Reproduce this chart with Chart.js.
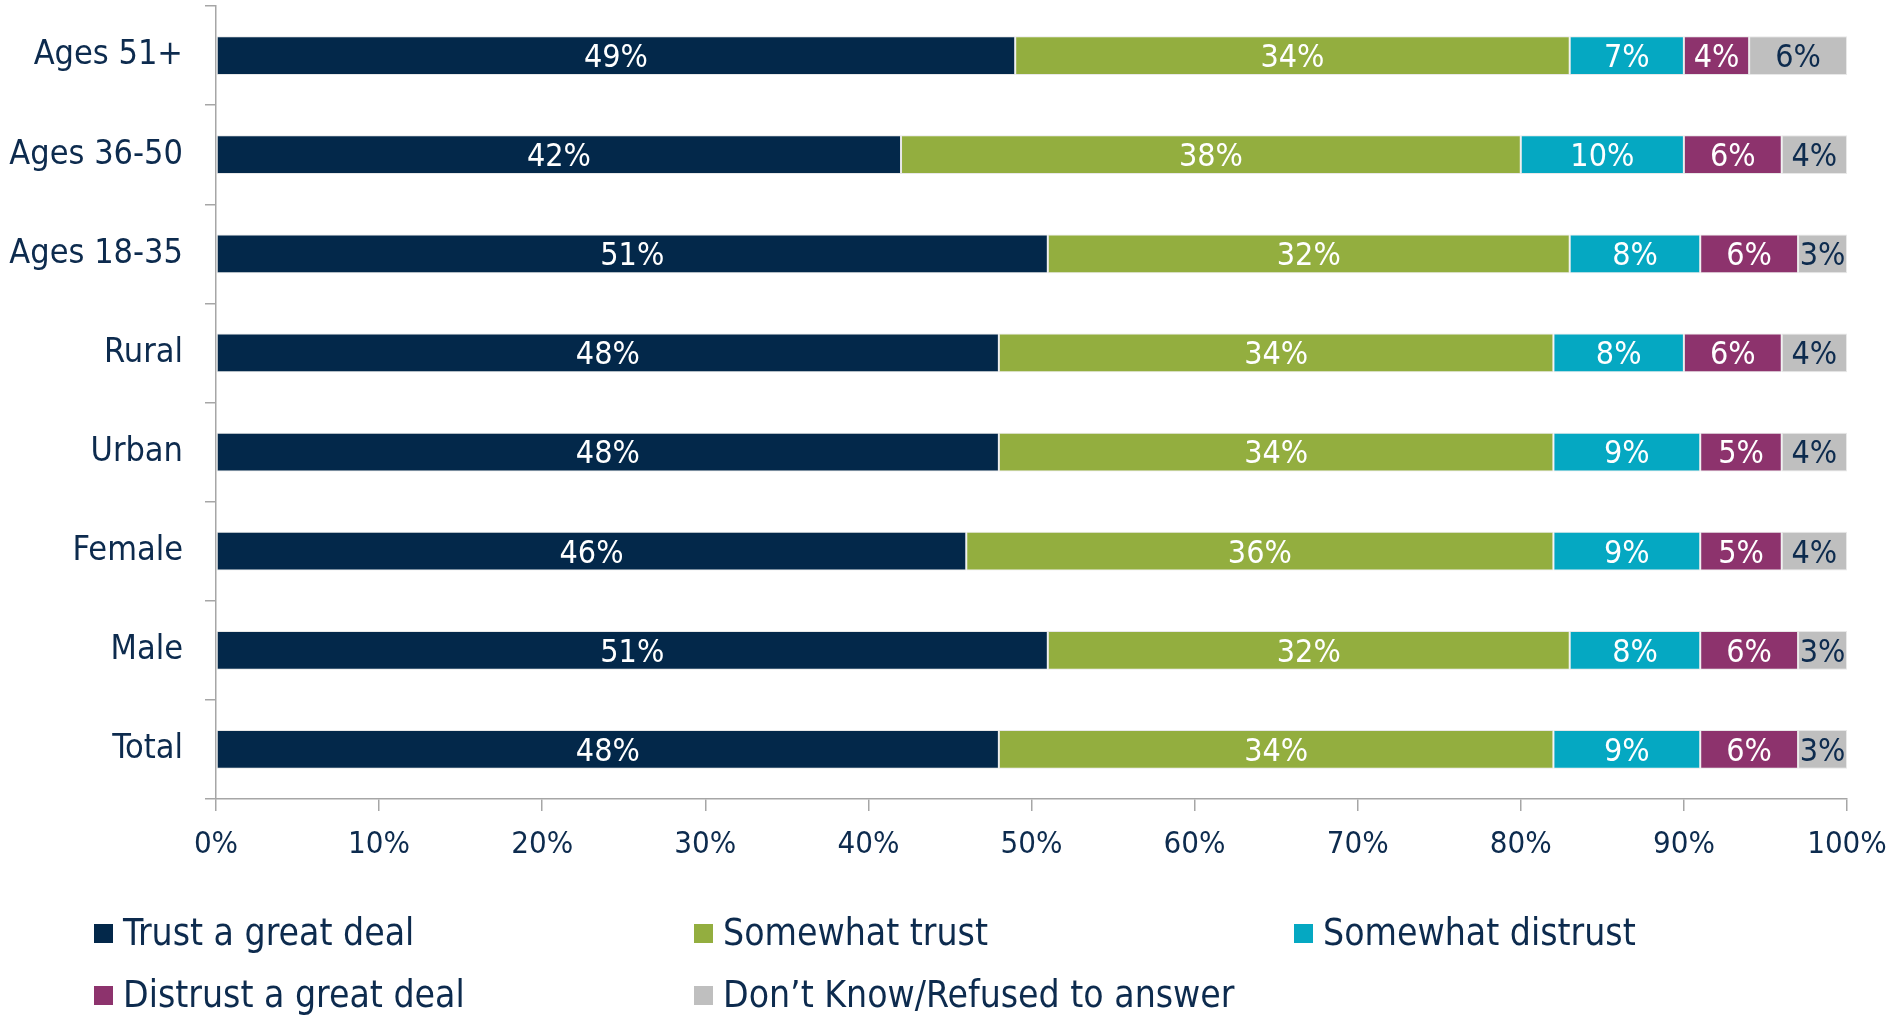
<!DOCTYPE html>
<html>
<head>
<meta charset="utf-8">
<script src="https://cdn.jsdelivr.net/npm/chart.js@4/dist/chart.umd.min.js"></script>
<style>
  body { margin: 0; background: #fff; }
  #wrap { position: relative; width: 1895px; height: 1015px; }
  .leg { position: absolute; font-family: "DejaVu Sans Condensed", "DejaVu Sans", sans-serif; font-size: 37px; color: #0D2B4E; white-space: nowrap; line-height: 40px; }
  .leg span { display: inline-block; width: 19px; height: 19px; margin-right: 10px; vertical-align: 2px; }
</style>
</head>
<body>
<div id="wrap">
  <canvas id="mycanvas" width="1895" height="1015"></canvas>
  <div id="legend"></div>
</div>
<script>
var categories = ["Ages 51+", "Ages 36-50", "Ages 18-35", "Rural", "Urban", "Female", "Male", "Total"];
var seriesNames = ["Trust a great deal", "Somewhat trust", "Somewhat distrust", "Distrust a great deal", "Don\u2019t Know/Refused to answer"];
var trustGreat    = [49, 42, 51, 48, 48, 46, 51, 48];
var somewhatTrust = [34, 38, 32, 34, 34, 36, 32, 34];
var somewhatDis   = [7, 10, 8, 8, 9, 9, 8, 9];
var distrustGreat = [4, 6, 6, 6, 5, 5, 6, 6];
var dontKnow      = [6, 4, 3, 4, 4, 4, 3, 3];
var xTicks = [0, 10, 20, 30, 40, 50, 60, 70, 80, 90, 100];

var colors = ["#03284A", "#93AE3F", "#05A8C2", "#8D336D", "#BFBFBF"];
var labelColors = ["#ffffff", "#ffffff", "#ffffff", "#ffffff", "#0D2B4E"];
var textColor = "#0D2B4E";
var fontFam = '"DejaVu Sans Condensed", "DejaVu Sans", sans-serif';
var values = [trustGreat, somewhatTrust, somewhatDis, distrustGreat, dontKnow];

var datasets = [];
for (var i in values) {
  datasets.push({
    label: seriesNames[i],
    data: values[i],
    backgroundColor: colors[i],
    borderColor: "rgba(230,230,230,0.9)",
    borderWidth: 1,
    borderSkipped: false,
    barPercentage: 0.39,
    categoryPercentage: 1.0
  });
}

// draws the % inside every segment
var barLabels = {
  id: "barLabels",
  afterDatasetsDraw: function(chart) {
    var ctx = chart.ctx;
    ctx.save();
    ctx.font = "32px " + fontFam;
    ctx.textAlign = "center";
    ctx.textBaseline = "middle";
    chart.data.datasets.forEach(function(ds, di) {
      var meta = chart.getDatasetMeta(di);
      ctx.fillStyle = labelColors[di];
      meta.data.forEach(function(bar, j) {
        var cx = (bar.x + bar.base) / 2;
        ctx.fillText(ds.data[j] + "%", cx, bar.y + 3);
      });
    });
    ctx.restore();
  }
};

var ctx = document.getElementById("mycanvas");
var chart = new Chart(ctx, {
  type: "bar",
  data: { labels: categories, datasets: datasets },
  plugins: [barLabels],
  options: {
    indexAxis: "y",
    responsive: false,
    animation: false,
    layout: { padding: { left: 0, right: 48, top: 6, bottom: 0 } },
    plugins: { legend: { display: false }, tooltip: { enabled: false } },
    scales: {
      x: {
        stacked: true,
        min: 0, max: 100,
        afterBuildTicks: function(scale) {
          scale.ticks = xTicks.map(function(v) { return { value: v }; });
        },
        afterFit: function(scale) {
          scale.height = 216;
          scale.paddingLeft = 0; scale.paddingRight = 0;
        },
        border: { color: "#A6A6A6", width: 1.5 },
        grid: { drawOnChartArea: false, drawTicks: true, tickLength: 12, color: "#A6A6A6", lineWidth: 1.5 },
        ticks: {
          padding: 15,
          color: textColor,
          font: { family: fontFam, size: 31 },
          maxRotation: 0,
          callback: function(v) { return v + "%"; }
        }
      },
      y: {
        stacked: true,
        afterFit: function(scale) {
          scale.width = 216;
          scale.paddingTop = 0; scale.paddingBottom = 0;
        },
        border: { color: "#A6A6A6", width: 1.5 },
        grid: { offset: true, drawOnChartArea: false, drawTicks: true, tickLength: 11, color: "#A6A6A6", lineWidth: 1.5 },
        ticks: {
          padding: 22,
          color: textColor,
          font: { family: fontFam, size: 34 }
        }
      }
    }
  }
});

// legend in a 3-column grid below the chart
var legPos = [[94, 913], [694, 913], [1294, 913], [94, 975], [694, 975]];
var legend = document.getElementById("legend");
seriesNames.forEach(function(name, i) {
  var d = document.createElement("div");
  d.className = "leg";
  d.style.left = legPos[i][0] + "px";
  d.style.top = legPos[i][1] + "px";
  d.innerHTML = '<span style="background:' + colors[i] + '"></span>' + name;
  legend.appendChild(d);
});
</script>
</body>
</html>
